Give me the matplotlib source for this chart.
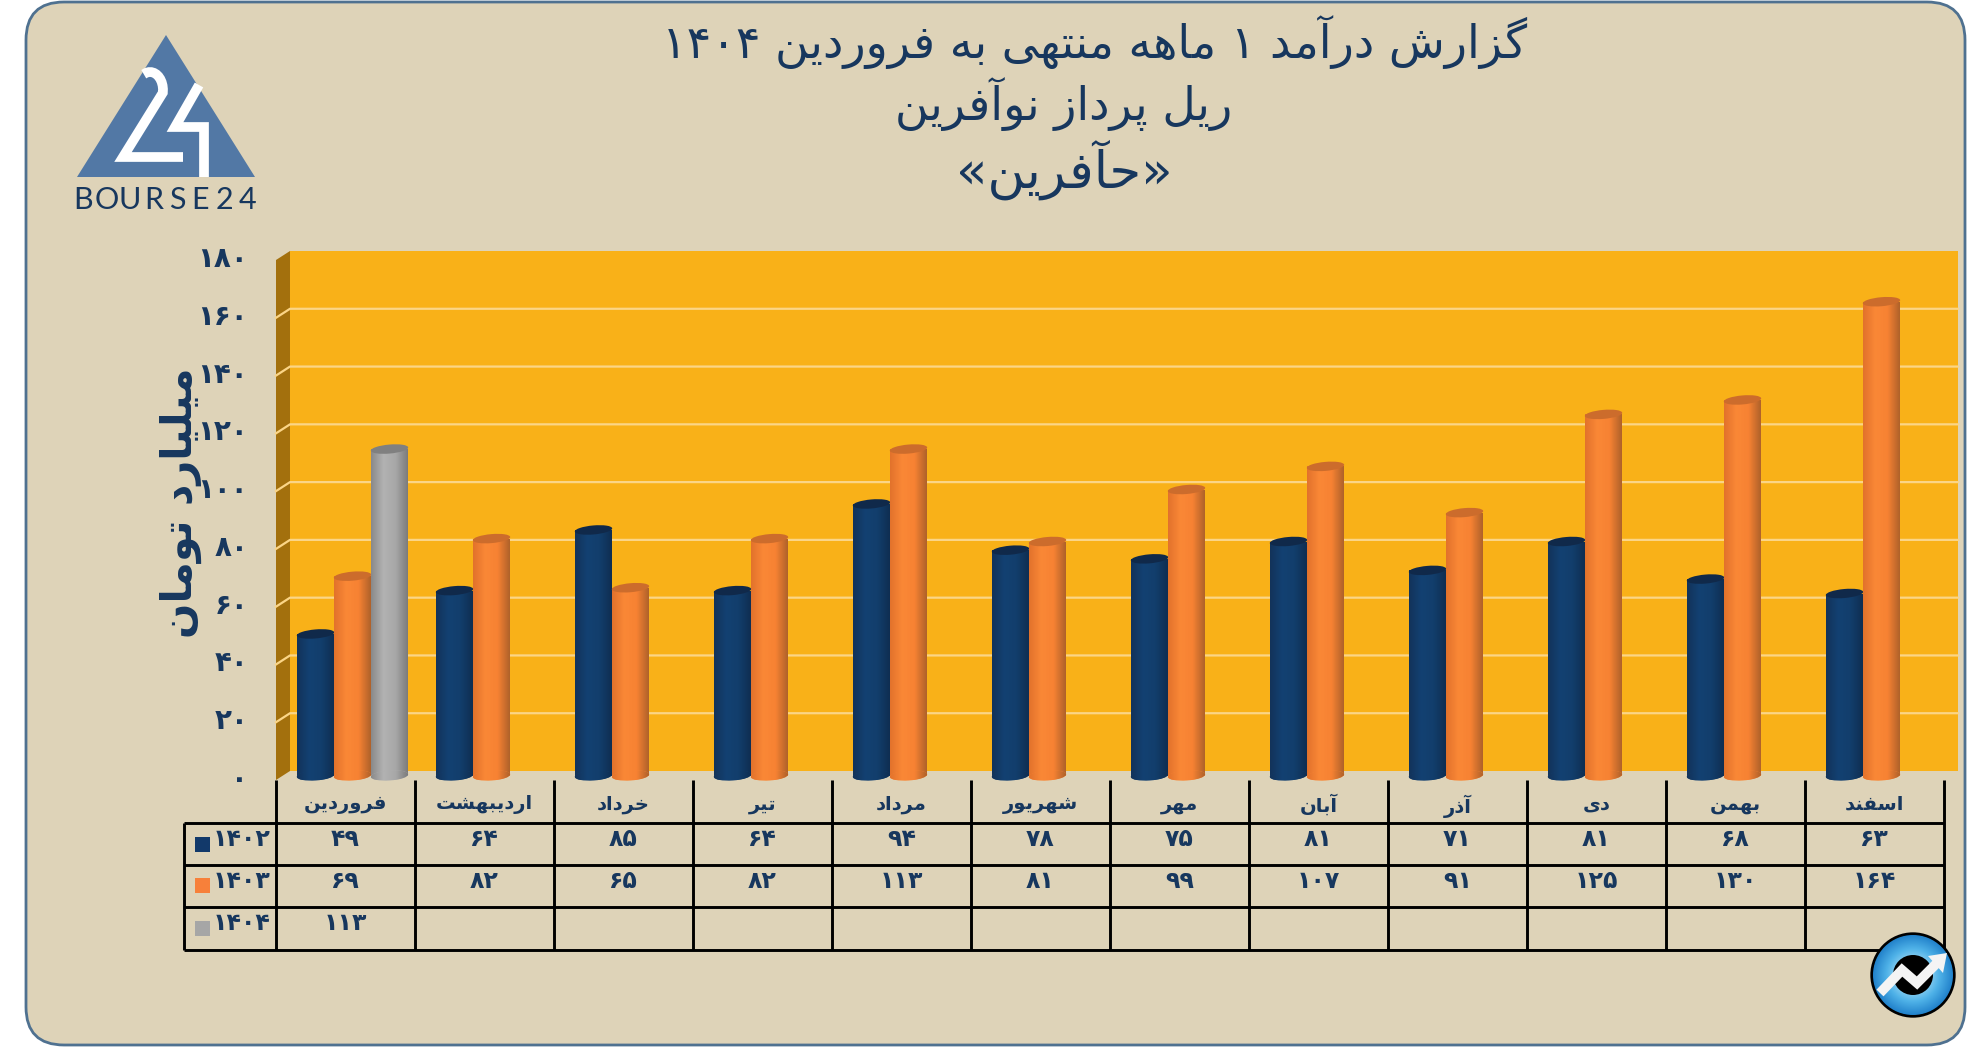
import matplotlib
matplotlib.use('Agg')
import matplotlib.pyplot as plt
import numpy as np
from matplotlib.colors import LinearSegmentedColormap
from matplotlib.patches import Circle, Ellipse, FancyBboxPatch, Polygon
from matplotlib.transforms import Affine2D, ScaledTranslation

months = ['فروردین', 'اردیبهشت', 'خرداد', 'تیر', 'مرداد', 'شهریور', 'مهر', 'آبان', 'آذر', 'دی', 'بهمن', 'اسفند']
years = [1402, 1403, 1404]
values_1402 = [49, 64, 85, 64, 94, 78, 75, 81, 71, 81, 68, 63]
values_1403 = [69, 82, 65, 82, 113, 81, 99, 107, 91, 125, 130, 164]
values_1404 = [113]
y_ticks = [0, 20, 40, 60, 80, 100, 120, 140, 160, 180]

title_lines = ['گزارش درآمد ۱ ماهه منتهی به فروردین ۱۴۰۴', 'ریل پرداز نوآفرین', '«حآفرین»']
y_title = 'میلیارد تومان'

NAVY_TEXT = '#17375e'
CARD = '#ded3b8'

# isolated, final, initial, medial (two entries for letters that do not join forward)
FORMS = {
    'ا': 'ﺍﺎ', 'آ': 'ﺁﺂ', 'د': 'ﺩﺪ', 'ذ': 'ﺫﺬ', 'ر': 'ﺭﺮ', 'ز': 'ﺯﺰ', 'و': 'ﻭﻮ',
    'ب': 'ﺏﺐﺑﺒ', 'پ': 'ﭖﭗﭘﭙ', 'ت': 'ﺕﺖﺗﺘ', 'ح': 'ﺡﺢﺣﺤ', 'خ': 'ﺥﺦﺧﺨ', 'س': 'ﺱﺲﺳﺴ',
    'ش': 'ﺵﺶﺷﺸ', 'ف': 'ﻑﻒﻓﻔ', 'ل': 'ﻝﻞﻟﻠ', 'م': 'ﻡﻢﻣﻤ', 'ن': 'ﻥﻦﻧﻨ', 'ه': 'ﻩﻪﻫﻬ',
    'ی': 'ﯼﯽﯾﯿ', 'گ': 'ﮒﮓﮔﮕ',
}
MIRROR = {'«': '»', '»': '«'}


def fa(text):
    # matplotlib has no text shaping, so pick the joined forms and lay out right to left
    shaped = []
    for i, ch in enumerate(text):
        if ch not in FORMS:
            shaped.append(MIRROR.get(ch, ch))
            continue
        before = i > 0 and text[i - 1] in FORMS and len(FORMS[text[i - 1]]) == 4
        after = i + 1 < len(text) and text[i + 1] in FORMS and len(FORMS[ch]) == 4
        shaped.append(FORMS[ch][{(0, 0): 0, (1, 0): 1, (0, 1): 2, (1, 1): 3}[(int(before), int(after))]])
    out = []
    for word in ''.join(shaped).split(' '):
        out.append(word if word.isdigit() else word[::-1])
    return ' '.join(out[::-1])


def fa_num(n):
    return str(n).translate(str.maketrans('0123456789', '۰۱۲۳۴۵۶۷۸۹'))


fig = plt.figure(figsize=(19.86, 10.47), dpi=100, facecolor='white')

# page layer in pixel coordinates
page = fig.add_axes([0, 0, 1, 1], zorder=1)
page.set_xlim(0, 1986)
page.set_ylim(1047, 0)
page.axis('off')

page.add_patch(FancyBboxPatch((26, 2), 1939, 1043, boxstyle='round,pad=0,rounding_size=38',
                              facecolor=CARD, edgecolor='#4f7190', linewidth=2))

for line, x, y, size in zip(title_lines, [1095, 1064, 1064], [43, 105, 170], [33, 33, 37]):
    page.text(x, y, fa(line), ha='center', va='center', fontsize=size, color=NAVY_TEXT, family='DejaVu Sans')

page.text(181, 503, fa(y_title), rotation=90, ha='center', va='center', fontsize=30,
          fontweight='bold', color=NAVY_TEXT, family='DejaVu Sans')

# logo
page.add_patch(Polygon([(166, 35), (77, 177), (255, 177)], closed=True, facecolor='#5278a5', edgecolor='none'))
t = np.linspace(-np.pi / 2 - 0.5, 0.15, 12)
two_x = list(150 + 13 * np.cos(t)) + [123, 183]
two_y = list(90 + 18 * np.sin(t)) + [157, 157]
page.plot(two_x, two_y, color='white', lw=7, solid_joinstyle='miter', solid_capstyle='butt')
page.plot([199, 175, 204, 204], [85, 127, 127, 177], color='white', lw=7, solid_joinstyle='miter',
          solid_capstyle='butt')
for i, ch in enumerate('BOURSE24'):
    page.text(83 + i * 23.5, 200, ch, ha='center', va='center', fontsize=22, color=NAVY_TEXT, family='Lato')

# chart layer, x in months and y in value units
ax = fig.add_axes([276 / 1986, (1047 - 780) / 1047, 1668 / 1986, 520 / 1047], zorder=2)
ax.patch.set_visible(False)
for spine in ax.spines.values():
    spine.set_visible(False)

DEPTH_X = 14 / 139
DEPTH_Y = 9 / (520 / 180)
BAR_W = 37 / 139

ax.fill([DEPTH_X, 12 + DEPTH_X, 12 + DEPTH_X, DEPTH_X], [DEPTH_Y, DEPTH_Y, 180 + DEPTH_Y, 180 + DEPTH_Y],
        color='#f9b118', lw=0, zorder=1, clip_on=False)
ax.fill([0, DEPTH_X, DEPTH_X, 0], [0, DEPTH_Y, 180 + DEPTH_Y, 180], color='#a3700d', lw=0, zorder=1, clip_on=False)
for v in y_ticks[1:-1]:
    ax.plot([0, DEPTH_X, 12 + DEPTH_X], [v, v + DEPTH_Y, v + DEPTH_Y], color='#fbd587', lw=1.6, zorder=2,
            clip_on=False)

ramps = [
    LinearSegmentedColormap.from_list('navy', ['#12335a', '#134172', '#123e6c', '#0f2e52']),
    LinearSegmentedColormap.from_list('orange', ['#e2722c', '#fa8836', '#f78233', '#b0622a']),
    LinearSegmentedColormap.from_list('gray', ['#8a8a8a', '#b2b2b2', '#a8a8a8', '#7c7c7c']),
]
top_colors = ['#10294a', '#cc6c2c', '#808080']
gradient = np.linspace(0, 1, 64).reshape(1, -1)


def draw_cylinder(x, value, series, zorder):
    left = x - BAR_W / 2
    base = DEPTH_Y / 2
    rect = ax.bar(x, value, BAR_W, bottom=base, color=ramps[series](0.4), lw=0, zorder=zorder, clip_on=False)[0]
    im = ax.imshow(gradient, cmap=ramps[series], aspect='auto', interpolation='bilinear', zorder=zorder,
                   extent=(left, left + BAR_W, base, base + value))
    im.set_clip_path(rect)
    foot = Ellipse((0, 0), 37.5, 10, angle=4, transform=ScaledTranslation(x, base, ax.transData),
                   facecolor=ramps[series](0.4), edgecolor='none', zorder=zorder, clip_on=False)
    ax.add_patch(foot)
    im2 = ax.imshow(gradient, cmap=ramps[series], aspect='auto', interpolation='bilinear', zorder=zorder,
                    extent=(left, left + BAR_W, base - 3, base + 3))
    im2.set_clip_path(foot)
    ax.add_patch(Ellipse((0, 0), 37.5, 9, angle=5, transform=ScaledTranslation(x, base + value, ax.transData),
                         facecolor=top_colors[series], edgecolor='none', zorder=zorder + 0.1, clip_on=False))


all_series = [values_1402, values_1403, values_1404]
for s, vals in enumerate(all_series):
    for i, v in enumerate(vals):
        draw_cylinder(i + 0.5 + DEPTH_X / 2 + (s - 1) * BAR_W, v, s, 3 + s)

ax.set_xlim(0, 12)
ax.set_ylim(0, 180)
ax.set_yticks(y_ticks)
ax.set_yticklabels([fa_num(v) for v in y_ticks], fontsize=20, fontweight='bold', color=NAVY_TEXT, family='DejaVu Sans')
ax.set_xticks(np.arange(12) + 0.5)
ax.set_xticklabels([fa(m) for m in months], fontsize=14, fontweight='bold', color=NAVY_TEXT, family='DejaVu Sans')
ax.tick_params(axis='y', length=0, pad=20)
ax.tick_params(axis='x', length=0, pad=10.5)
for label in ax.get_yticklabels():
    label.set_transform(label.get_transform() + Affine2D().translate(0, 4))

# data table under the chart
table = fig.add_axes([0, 0, 1, 1], zorder=3)
table.set_xlim(0, 1986)
table.set_ylim(1047, 0)
table.axis('off')

col_edges = np.linspace(276, 1944, 13)
row_edges = [823, 865, 907, 950]
table.hlines(row_edges, 184, 1944, color='black', lw=2.1)
table.vlines(col_edges, 780, 950, color='black', lw=2.1)
table.vlines(184, 823, 950, color='black', lw=2.1)

key_colors = ['#12396a', '#f7803a', '#a6a6a6']
key_tops = [837, 878, 921]
for r, (year, vals) in enumerate(zip(years, all_series)):
    y = row_edges[r] + 16
    table.fill([195, 210, 210, 195], [key_tops[r], key_tops[r], key_tops[r] + 15, key_tops[r] + 15],
               color=key_colors[r], lw=0)
    table.text(271, y, fa_num(year), ha='right', va='center', fontsize=17, fontweight='bold', color=NAVY_TEXT,
               family='DejaVu Sans')
    for i, v in enumerate(vals):
        table.text((col_edges[i] + col_edges[i + 1]) / 2, y, fa_num(v), ha='center', va='center', fontsize=17,
                   fontweight='bold', color=NAVY_TEXT, family='DejaVu Sans')

# corner badge
badge = Circle((1913, 975), 41, facecolor='#2a8fd6', edgecolor='black', lw=2.4, zorder=5)
table.add_patch(badge)
yy, xx = np.mgrid[-1:1:128j, -1:1:128j]
rr = np.hypot(xx, yy)
glow = LinearSegmentedColormap.from_list('glow', ['#a6dcf5', '#4fb2e8', '#1f7fc9'])
im = table.imshow(rr, cmap=glow, vmin=0.3, vmax=1, extent=(1872, 1954, 1016, 934), zorder=5.1, aspect='auto')
im.set_clip_path(Circle((1913, 975), 40, transform=table.transData))
table.add_patch(Circle((1913, 975), 20, facecolor='black', edgecolor='none', zorder=5.2))
table.plot([1880, 1902, 1917, 1938], [993, 970, 983, 962], color='#f4f4f4', lw=7, solid_joinstyle='miter',
           solid_capstyle='butt', zorder=5.3)
table.add_patch(Polygon([(1947, 953), (1928, 956), (1943, 973)], closed=True, facecolor='#f4f4f4',
                        edgecolor='none', zorder=5.3))
table.set_xlim(0, 1986)
table.set_ylim(1047, 0)

fig.savefig('out.png', dpi=100, facecolor='white')
